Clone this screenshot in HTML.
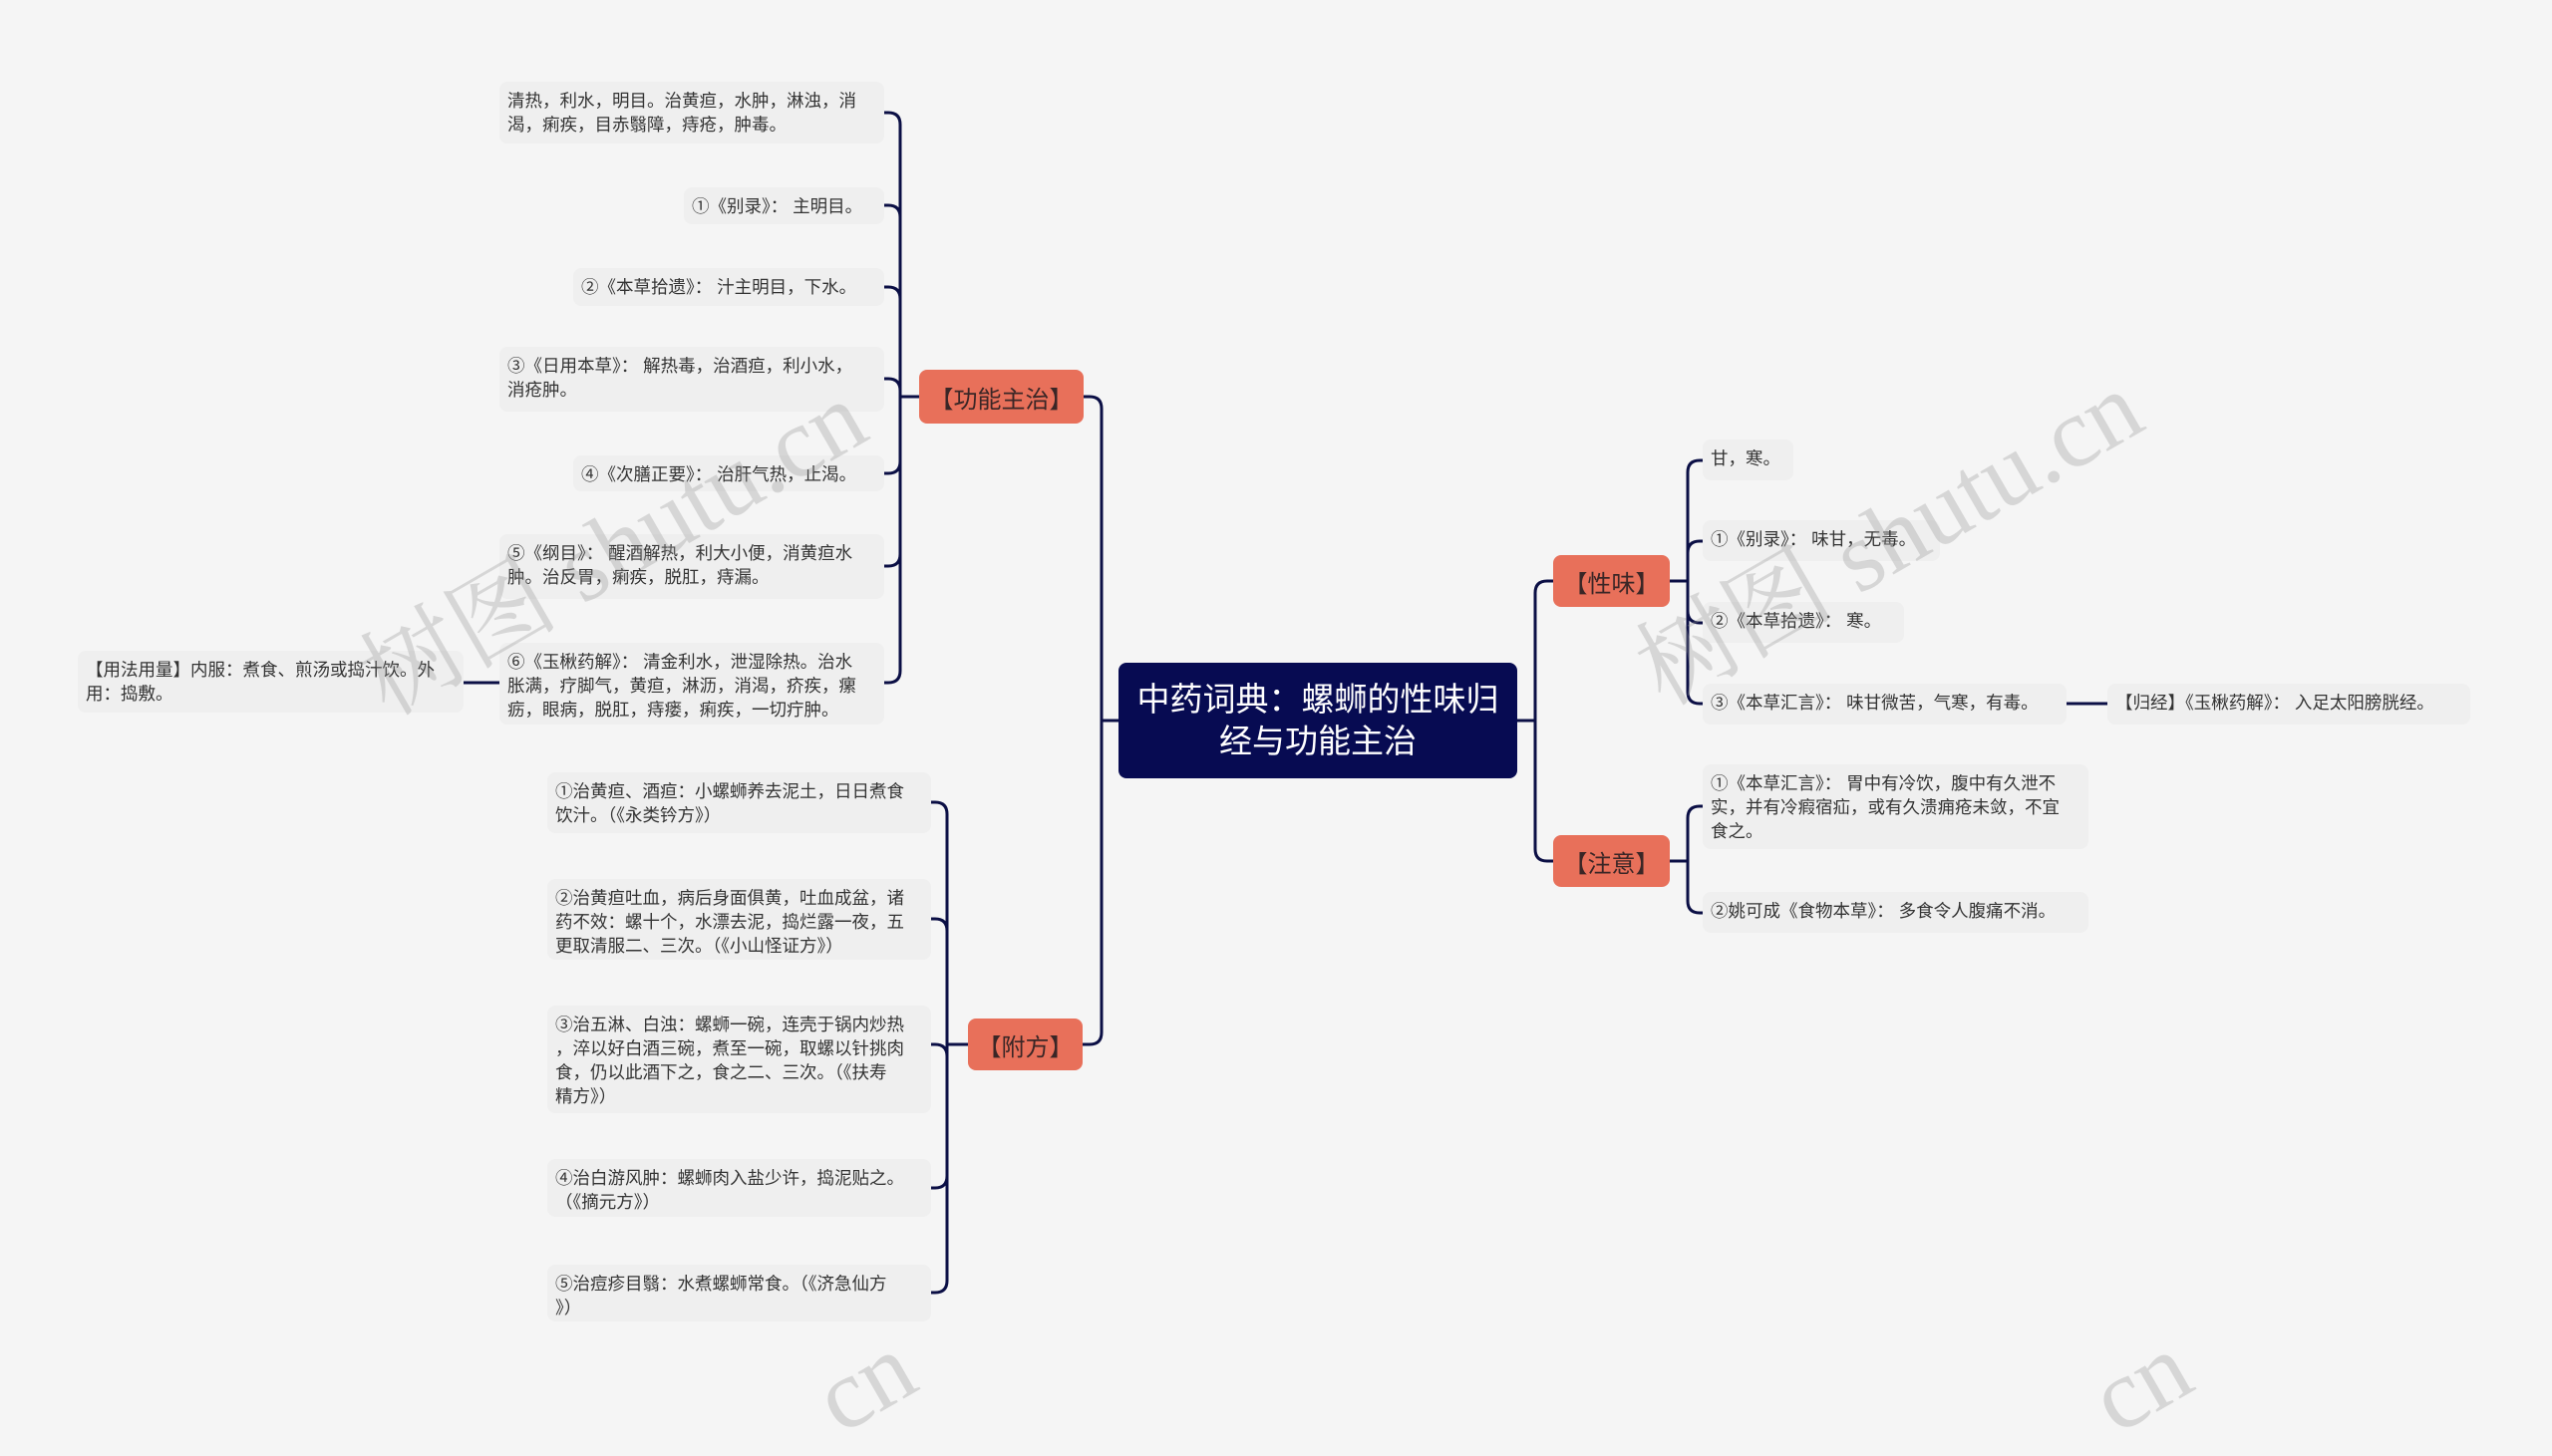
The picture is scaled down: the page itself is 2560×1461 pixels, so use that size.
<!DOCTYPE html>
<html><head><meta charset="utf-8"><style>
body{margin:0;width:2560px;height:1407px;background:#f5f5f5;overflow:hidden;position:relative;font-family:"Liberation Sans","Noto Sans CJK SC",sans-serif;}
.l{position:absolute;background:#efefef;border-radius:8px;color:#333;font-size:17.5px;line-height:24px;padding:7px 8px;box-sizing:border-box;white-space:nowrap;overflow:visible;}
.c{position:absolute;background:#e8705a;border-radius:8px;color:#3a2626;font-size:24px;display:flex;align-items:center;justify-content:center;box-sizing:border-box;}
.r{position:absolute;left:1122px;top:665px;width:400px;height:116px;background:#070b52;border-radius:8px;color:#fff;font-size:33px;line-height:42px;display:flex;align-items:center;justify-content:center;text-align:center;padding:0 8px;box-sizing:border-box;}
.w{position:absolute;color:rgba(150,150,150,0.32);font-family:"Liberation Serif","Noto Serif CJK SC",serif;font-size:100px;transform:rotate(-30deg);white-space:nowrap;}
svg{position:absolute;left:0;top:0}
</style></head><body>
<svg width="2560" height="1407" fill="none" stroke="#0b0f45" stroke-width="3">
<path d="M1122 723 H1105"/>
<path d="M1522 723 H1540"/>
<path d="M1086 398 H1093 Q1105 398 1105 410 V1036 Q1105 1048 1093 1048 H1086"/>
<path d="M1558 583 H1552 Q1540 583 1540 595 V852 Q1540 864 1552 864 H1558"/>
<path d="M922 398 H903"/>
<path d="M903 398 V125 Q903 113 891 113 H887"/>
<path d="M903 218 Q903 206 891 206 H887"/>
<path d="M903 300 Q903 288 891 288 H887"/>
<path d="M903 398 V392 Q903 380 891 380 H887"/>
<path d="M903 398 V463 Q903 475 891 475 H887"/>
<path d="M903 398 V556 Q903 568 891 568 H887"/>
<path d="M903 398 V673 Q903 685 891 685 H887"/>
<path d="M501 685 H465"/>
<path d="M971 1048 H950"/>
<path d="M950 1048 V817 Q950 805 938 805 H934"/>
<path d="M950 934 Q950 922 938 922 H934"/>
<path d="M950 1060 Q950 1048 938 1048 H934"/>
<path d="M950 1048 V1180 Q950 1192 938 1192 H934"/>
<path d="M950 1048 V1285 Q950 1297 938 1297 H934"/>
<path d="M1675 583 H1693"/>
<path d="M1693 583 V474 Q1693 462 1705 462 H1708"/>
<path d="M1693 555 Q1693 543 1705 543 H1708"/>
<path d="M1693 583 V613 Q1693 625 1705 625 H1708"/>
<path d="M1693 583 V694 Q1693 706 1705 706 H1708"/>
<path d="M2073 706 H2114"/>
<path d="M1675 864 H1693"/>
<path d="M1693 864 V821 Q1693 809 1705 809 H1708"/>
<path d="M1693 864 V904 Q1693 916 1705 916 H1708"/>
</svg>

<div class="r">中药词典：螺蛳的性味归经与功能主治</div>
<div class="c" style="left:922px;top:371px;width:165px;height:54px">【功能主治】</div>
<div class="c" style="left:971px;top:1022px;width:115px;height:52px">【附方】</div>
<div class="c" style="left:1558px;top:557px;width:117px;height:52px">【性味】</div>
<div class="c" style="left:1558px;top:838px;width:117px;height:52px">【注意】</div>

<div class="l" style="left:501px;top:82px;width:386px;height:62px">清热，利水，明目。治黄疸，水肿，淋浊，消<br>渴，痢疾，目赤翳障，痔疮，肿毒。</div>
<div class="l" style="left:686px;top:188px;width:201px;height:37px">①《别录》： 主明目。</div>
<div class="l" style="left:575px;top:269px;width:312px;height:38px">②《本草拾遗》： 汁主明目，下水。</div>
<div class="l" style="left:501px;top:348px;width:386px;height:65px">③《日用本草》： 解热毒，治酒疸，利小水，<br>消疮肿。</div>
<div class="l" style="left:575px;top:457px;width:312px;height:36px">④《次膳正要》： 治肝气热，止渴。</div>
<div class="l" style="left:501px;top:536px;width:386px;height:65px">⑤《纲目》： 醒酒解热，利大小便，消黄疸水<br>肿。治反胃，痢疾，脱肛，痔漏。</div>
<div class="l" style="left:501px;top:645px;width:386px;height:82px">⑥《玉楸药解》： 清金利水，泄湿除热。治水<br>胀满，疗脚气，黄疸，淋沥，消渴，疥疾，瘰<br>疬，眼病，脱肛，痔瘘，痢疾，一切疔肿。</div>
<div class="l" style="left:78px;top:653px;width:387px;height:62px">【用法用量】内服：煮食、煎汤或捣汁饮。外<br>用：捣敷。</div>

<div class="l" style="left:549px;top:775px;width:385px;height:61px">①治黄疸、酒疸：小螺蛳养去泥土，日日煮食<br>饮汁。（《永类钤方》）</div>
<div class="l" style="left:549px;top:882px;width:385px;height:81px">②治黄疸吐血，病后身面俱黄，吐血成盆，诸<br>药不效：螺十个，水漂去泥，捣烂露一夜，五<br>更取清服二、三次。（《小山怪证方》）</div>
<div class="l" style="left:549px;top:1009px;width:385px;height:108px">③治五淋、白浊：螺蛳一碗，连壳于锅内炒热<br>，淬以好白酒三碗，煮至一碗，取螺以针挑肉<br>食，仍以此酒下之，食之二、三次。（《扶寿<br>精方》）</div>
<div class="l" style="left:549px;top:1163px;width:385px;height:58px">④治白游风肿：螺蛳肉入盐少许，捣泥贴之。<br>（《摘元方》）</div>
<div class="l" style="left:549px;top:1269px;width:385px;height:57px">⑤治痘疹目翳：水煮螺蛳常食。（《济急仙方<br>》）</div>

<div class="l" style="left:1708px;top:441px;width:91px;height:41px">甘，寒。</div>
<div class="l" style="left:1708px;top:522px;width:238px;height:41px">①《别录》： 味甘，无毒。</div>
<div class="l" style="left:1708px;top:604px;width:202px;height:41px">②《本草拾遗》： 寒。</div>
<div class="l" style="left:1708px;top:686px;width:365px;height:41px">③《本草汇言》： 味甘微苦，气寒，有毒。</div>
<div class="l" style="left:2114px;top:686px;width:364px;height:41px">【归经】《玉楸药解》： 入足太阳膀胱经。</div>
<div class="l" style="left:1708px;top:767px;width:387px;height:85px">①《本草汇言》： 胃中有冷饮，腹中有久泄不<br>实，并有冷瘕宿疝，或有久溃痈疮未敛，不宜<br>食之。</div>
<div class="l" style="left:1708px;top:895px;width:387px;height:41px">②姚可成《食物本草》： 多食令人腹痛不消。</div>

<div class="w" style="left:330px;top:470px">树图 shutu.cn</div>
<div class="w" style="left:1610px;top:460px">树图 shutu.cn</div>
<div class="w" style="left:820px;top:1330px">cn</div>
<div class="w" style="left:2100px;top:1330px">cn</div>
</body></html>
